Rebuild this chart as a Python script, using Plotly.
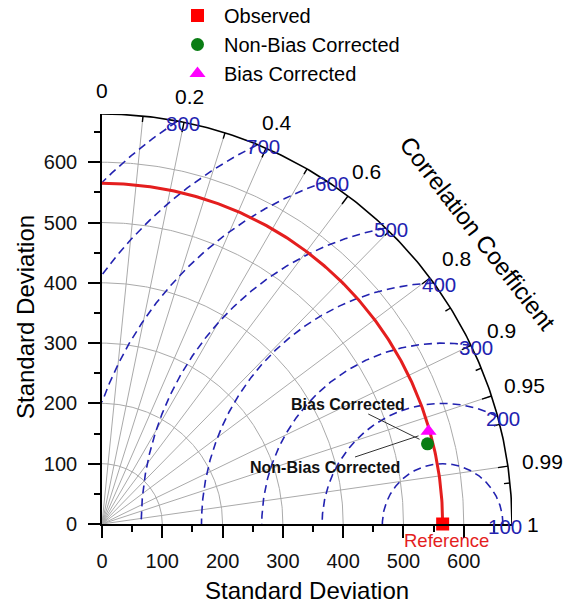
import numpy as np
import plotly.graph_objects as go

# ---------------- data ----------------
ref_name = "Observed"
ref_std = 565.0
model_names = ["Non-Bias Corrected", "Bias Corrected"]
model_std = [556.0, 563.0]
model_corr = [0.971, 0.962]

std_max = 680.0
std_grid = [100, 200, 300, 400, 500, 600]
std_ticks = [0, 100, 200, 300, 400, 500, 600]
std_minor = [50, 150, 250, 350, 450, 550, 650]
corr_lines = [0.1, 0.2, 0.3, 0.4, 0.5, 0.6, 0.7, 0.8, 0.9, 0.95, 0.99]
corr_labels = [0, 0.2, 0.4, 0.6, 0.8, 0.9, 0.95, 0.99, 1]
corr_minor = [0.1, 0.3, 0.5, 0.7, 0.85, 0.925, 0.97, 0.995]
rms_levels = [100, 200, 300, 400, 500, 600, 700, 800]

# ---------------- geometry helpers ----------------
W, H = 573, 603
L_M, T_M = 102, 114
PLOT_PX = 410
S = PLOT_PX / std_max  # px per unit
FONT = "Liberation Sans, Arial, sans-serif"
BLUE = "#2222b0"
RED = "#e41e1e"
GRAY = "#aaaaaa"


def u(px):
    return px / S


def pix2data(px, py):
    return (px - L_M) / S, (T_M + PLOT_PX - py) / S


def to_paper(x, y):
    return x / std_max, y / std_max


def fmt(c):
    return "%g" % c


fig = go.Figure()

# std grid arcs (gray)
th = np.linspace(0, np.pi / 2, 200)
for r in std_grid:
    fig.add_trace(go.Scatter(x=r * np.cos(th), y=r * np.sin(th), mode="lines",
                             line=dict(color=GRAY, width=1), hoverinfo="skip",
                             showlegend=False))

# correlation radial lines
for c in corr_lines:
    a = np.arccos(c)
    fig.add_trace(go.Scatter(x=[0, std_max * np.cos(a)], y=[0, std_max * np.sin(a)],
                             mode="lines", line=dict(color=GRAY, width=1),
                             hoverinfo="skip", showlegend=False))

# RMS contours
phi = np.linspace(0, np.pi, 1500)
for lev in rms_levels:
    xs = ref_std + lev * np.cos(phi)
    ys = lev * np.sin(phi)
    ok = (xs >= 0) & (xs ** 2 + ys ** 2 <= std_max ** 2)
    xs = np.where(ok, xs, np.nan)
    ys = np.where(ok, ys, np.nan)
    fig.add_trace(go.Scatter(x=xs, y=ys, mode="lines", connectgaps=False,
                             line=dict(color=BLUE, width=1.6, dash="8px,5px"),
                             hoverinfo="skip", showlegend=False))

# reference std arc (red)
fig.add_trace(go.Scatter(x=ref_std * np.cos(th), y=ref_std * np.sin(th), mode="lines",
                         line=dict(color=RED, width=3), hoverinfo="skip", showlegend=False))

# outer arc
fig.add_trace(go.Scatter(x=std_max * np.cos(th), y=std_max * np.sin(th), mode="lines",
                         line=dict(color="black", width=1.6), hoverinfo="skip",
                         showlegend=False))

# correlation ticks on outer arc (inward)
tx, ty = [], []
for c, ln in [(c, 10) for c in corr_labels if 0 < c < 1] + [(c, 6) for c in corr_minor]:
    a = np.arccos(c)
    r0, r1 = std_max, std_max - u(ln)
    tx += [r0 * np.cos(a), r1 * np.cos(a), None]
    ty += [r0 * np.sin(a), r1 * np.sin(a), None]
fig.add_trace(go.Scatter(x=tx, y=ty, mode="lines", line=dict(color="black", width=1.4),
                         hoverinfo="skip", showlegend=False))

annotations = []

# correlation labels (paper coords so they are not hidden outside the axis range)
for c in corr_labels:
    a = np.arccos(c)
    off = 21 if c == 1 else 24 + 11 * c
    r = std_max + u(off)
    px, py = to_paper(r * np.cos(a), r * np.sin(a))
    annotations.append(dict(x=px, y=py, xref="paper", yref="paper",
                            text=fmt(c), showarrow=False,
                            font=dict(size=21, color="black", family=FONT),
                            xanchor="center", yanchor="middle"))

# RMS labels
for lev in rms_levels:
    cosv = (std_max ** 2 + ref_std ** 2 - lev ** 2) / (2 * std_max * ref_std)
    if abs(cosv) <= 1:
        a = np.arccos(cosv)
        x0, y0 = std_max * np.cos(a), std_max * np.sin(a)
        xs_ = 5
    else:
        x0, y0 = ref_std + lev, 0.0
        xs_ = 2
    px, py = to_paper(x0, y0)
    annotations.append(dict(x=px, y=py, xref="paper", yref="paper", text=str(lev),
                            showarrow=False, font=dict(size=20.5, color=BLUE, family=FONT),
                            xanchor="center", yanchor="middle", xshift=xs_, yshift=-2))

# Correlation Coefficient title
ca = np.radians(37.7)
cr = u(475)
px, py = to_paper(cr * np.cos(ca), cr * np.sin(ca))
annotations.append(dict(x=px, y=py, xref="paper", yref="paper",
                        text="Correlation Coefficient", showarrow=False, textangle=52.3,
                        font=dict(size=24, color="black", family=FONT),
                        xanchor="center", yanchor="middle"))

# Reference label
px, py = to_paper(ref_std, 0)
annotations.append(dict(x=px, y=py, xref="paper", yref="paper", text="Reference",
                        showarrow=False, font=dict(size=18.5, color=RED, family=FONT),
                        xanchor="center", yanchor="middle", xshift=4, yshift=-16))

# model labels with leader lines
mx = [s * c for s, c in zip(model_std, model_corr)]
my = [s * np.sqrt(1 - c ** 2) for s, c in zip(model_std, model_corr)]
label_px = {"Non-Bias Corrected": (325, 467, -9, 8), "Bias Corrected": (348, 404, -9, -8)}
for name, x0, y0 in zip(model_names, mx, my):
    lx, ly, dx, dy = label_px[name]
    ax, ay = pix2data(lx, ly)
    annotations.append(dict(x=x0 + u(dx), y=y0 + u(dy), xref="x", yref="y", ax=ax, ay=ay,
                            axref="x", ayref="y", text="<b>%s</b>" % name, showarrow=True,
                            arrowhead=0, arrowwidth=1, arrowcolor="#333333", standoff=0,
                            font=dict(size=16, color="#111111", family=FONT)))

# axis titles
annotations.append(dict(x=0.5, y=(T_M + PLOT_PX - 590) / PLOT_PX, xref="paper", yref="paper",
                        text="Standard Deviation", showarrow=False,
                        font=dict(size=24, color="black", family=FONT),
                        xanchor="center", yanchor="middle"))
annotations.append(dict(x=(25 - L_M) / PLOT_PX, y=(T_M + PLOT_PX - 317) / PLOT_PX,
                        xref="paper", yref="paper", text="Standard Deviation", showarrow=False,
                        textangle=-90, font=dict(size=24, color="black", family=FONT),
                        xanchor="center", yanchor="middle"))

# points (legend order)
fig.add_trace(go.Scatter(x=[ref_std], y=[0], mode="markers", name=ref_name, cliponaxis=False,
                         marker=dict(symbol="square", size=13, color="#ff0000")))
fig.add_trace(go.Scatter(x=[mx[0]], y=[my[0]], mode="markers", name=model_names[0],
                         cliponaxis=False,
                         marker=dict(symbol="circle", size=13, color="#0a7d14")))
fig.add_trace(go.Scatter(x=[mx[1]], y=[my[1]], mode="markers", name=model_names[1],
                         cliponaxis=False,
                         marker=dict(symbol="triangle-up", size=14, color="#ff00ff")))

axis_common = dict(range=[0, std_max], showgrid=False, zeroline=False, showline=True,
                   linecolor="black", linewidth=1.6, ticks="outside", ticklen=12,
                   tickwidth=1.6, tickcolor="black", tickvals=std_ticks,
                   tickfont=dict(size=20, color="#111111", family=FONT),
                   minor=dict(tickvals=std_minor, ticks="outside", ticklen=6, tickwidth=1.6,
                              tickcolor="black"),
                   fixedrange=True, automargin=False)

fig.update_layout(
    width=W, height=H,
    margin=dict(l=L_M, r=W - L_M - PLOT_PX, t=T_M, b=H - T_M - PLOT_PX, pad=0,
                autoexpand=False),
    paper_bgcolor="white", plot_bgcolor="white",
    font=dict(family=FONT, color="black"),
    xaxis=dict(axis_common, ticklabelstandoff=6),
    yaxis=dict(axis_common, ticklabelstandoff=7),
    showlegend=True,
    legend=dict(x=(171 - L_M) / PLOT_PX, y=(T_M + PLOT_PX + 4) / PLOT_PX, xanchor="left",
                yanchor="top", font=dict(size=20, color="black", family=FONT),
                bgcolor="rgba(0,0,0,0)", itemsizing="trace", itemwidth=43),
    annotations=annotations,
)

fig.write_html("out.html")
